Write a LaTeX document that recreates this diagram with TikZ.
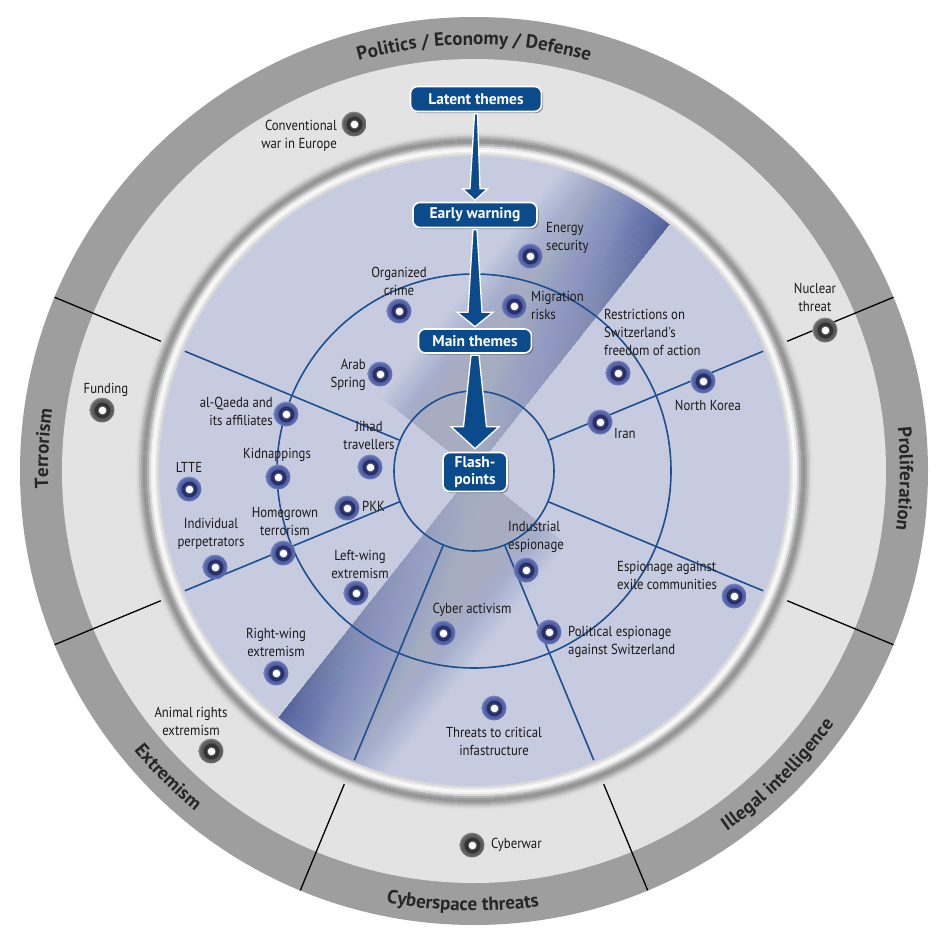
\documentclass[tikz,border=0pt]{standalone}
\usepackage{fontspec}
\setmainfont{PT Sans}
\newfontfamily\lblfont{PT Sans}[FakeStretch=0.88]
\newfontfamily\boxfont{PT Sans}
\usetikzlibrary{calc,decorations.text,shadows}
\definecolor{bandc}{HTML}{9E9E9E}
\definecolor{ringl}{HTML}{E3E3E3}
\definecolor{discc}{HTML}{C6CBE0}
\definecolor{dline}{HTML}{1E4F8E}
\definecolor{boxblue}{HTML}{0B4A8B}
\definecolor{stripec}{HTML}{3C4F9B}
\definecolor{bring}{HTML}{262F68}
\definecolor{bhaloA}{HTML}{5664A9}
\definecolor{bhaloB}{HTML}{8893C6}
\definecolor{bhaloC}{HTML}{C2C7DE}
\definecolor{gringc}{HTML}{333333}
\definecolor{ghaloA}{HTML}{5E5E5E}
\definecolor{ghaloB}{HTML}{949494}
\definecolor{ghaloC}{HTML}{DEDEDE}
\definecolor{txt}{HTML}{1A1A1A}
\definecolor{bandtxt}{HTML}{262626}
\pgfdeclareradialshading{bdotshade}{\pgfpoint{0bp}{0bp}}{color(0bp)=(white); color(7bp)=(white); color(8.6bp)=(bring); color(15.4bp)=(bring); color(17bp)=(bhaloA); color(21.5bp)=(bhaloA); color(26bp)=(bhaloB); color(30bp)=(bhaloC); color(100bp)=(bhaloC)}
\pgfdeclareradialshading{gdotshade}{\pgfpoint{0bp}{0bp}}{color(0bp)=(white); color(7bp)=(white); color(8.6bp)=(gringc); color(15.4bp)=(gringc); color(17bp)=(ghaloA); color(21.5bp)=(ghaloA); color(26bp)=(ghaloB); color(30bp)=(ghaloC); color(100bp)=(ghaloC)}
\newcommand\bandfont{\boxfont\bfseries\fontsize{19pt}{20pt}\selectfont}
\tikzset{
  discline/.style={draw=dline, line width=1.6pt},
  divline/.style={draw=black, line width=1.3pt},
  bdot/.style={circle, inner sep=0pt, minimum size=25pt, shading=bdotshade},
  gdot/.style={circle, inner sep=0pt, minimum size=25pt, shading=gdotshade},
  lbl/.style={font=\lblfont\fontsize{14.5pt}{18pt}\selectfont, text=txt, inner sep=0pt, align=center},
  lbll/.style={lbl, align=left, anchor=west},
  lblr/.style={lbl, align=right, anchor=east},
  tbox/.style={rounded corners=7pt, fill=boxblue, draw=white, line width=1.6pt, text=white,
    font=\boxfont\bfseries\fontsize{15.5pt}{16pt}\selectfont, inner xsep=4pt, inner ysep=2pt,
    align=center, drop shadow={shadow xshift=1.6pt, shadow yshift=-1.6pt, fill=black, opacity=0.35}},
  bigarrow/.style={fill=boxblue, draw=white, line width=1.3pt, line join=miter},
  bandtext/.style={decorate, decoration={text along path, text align=center, text color=bandtxt, text={|\bandfont|#1}}}
}
\begin{document}
\begin{tikzpicture}[x=1pt,y=-1pt]
\useasboundingbox (0,0) rectangle (946,937);
\fill[white] (0,0) rectangle (946,937);
\coordinate (c) at (474,471);
% rings
\fill[bandc] (c) circle (454pt);
\fill[ringl] (c) circle (412pt);
\fill[discc] (c) circle (316pt);
% stripe (radar sweep)
\begin{scope}
  \clip (c) circle (315pt);
  \foreach \rot in {-38.4,141.6}{
    \begin{scope}[shift={(c)},x=1pt,y=1pt,rotate=\rot]
      \foreach \i in {1,...,60}{
        \fill[stripec,fill opacity=0.022] (0,0) rectangle ({118*(\i/60)^1.6},-330);
      }
      \foreach \j in {1,...,50}{
        \fill[discc,fill opacity=0.032] (-0.5,0) rectangle (119,{-\j*6});
      }
    \end{scope}}
\end{scope}
% rim bevel
\foreach \r/\k in {338/12,336/17,334/26,332/35,330/42,328/40,326/30,324/16,322/5,320/2,318/8,316/15}{
  \draw[line width=2.3pt, black!\k] (c) circle (\r pt);
}
% disc lines
\draw[discline] (c) circle (80pt);
\draw[discline] (c) circle (197pt);
\foreach \a in {22.5,157.5,202.5,247.5,292.5,337.5}{
  \draw[discline] ($(c)+(\a:80pt)$) -- ($(c)+(\a:313pt)$);
  \draw[divline] ($(c)+(\a:339pt)$) -- ($(c)+(\a:454pt)$);
}
% band texts
\path[bandtext={Politics / Economy / Defense}] ($(c)+(150:426pt)$) arc[start angle=150, end angle=30, radius=426pt];
\path[bandtext={Terrorism}] ($(c)+(227:426pt)$) arc[start angle=227, end angle=127, radius=426pt];
\path[bandtext={Proliferation}] ($(c)+(49:426pt)$) arc[start angle=49, end angle=-51, radius=426pt];
\path[bandtext={Extremism}] ($(c)+(195:440pt)$) arc[start angle=195, end angle=255, radius=440pt];
\path[bandtext={Cyberspace threats}] ($(c)+(238.5:440pt)$) arc[start angle=238.5, end angle=298.5, radius=440pt];
\path[bandtext={Illegal intelligence}] ($(c)+(280:440pt)$) arc[start angle=280, end angle=350, radius=440pt];
% dots
\node[gdot] (conv) at (354,124) {};
\node[gdot] (nuclear) at (825,330) {};
\node[gdot] (funding) at (102,410) {};
\node[gdot] (animal) at (211,751) {};
\node[gdot] (cyberwar) at (472,845) {};
\node[bdot] (energy) at (530,256) {};
\node[bdot] (orgcrime) at (399,311) {};
\node[bdot] (migration) at (514,306) {};
\node[bdot] (arab) at (380,374) {};
\node[bdot] (alqaeda) at (286,414) {};
\node[bdot] (kidnap) at (278,477) {};
\node[bdot] (ltte) at (189,489) {};
\node[bdot] (homegrown) at (283,553) {};
\node[bdot] (indiv) at (215,567) {};
\node[bdot] (jihad) at (370,467) {};
\node[bdot] (pkk) at (347,508) {};
\node[bdot] (leftwing) at (356,593) {};
\node[bdot] (rightwing) at (276,673) {};
\node[bdot] (restrict) at (618,373) {};
\node[bdot] (nkorea) at (703,381) {};
\node[bdot] (iran) at (600,422) {};
\node[bdot] (industrial) at (526,570) {};
\node[bdot] (exile) at (734,596) {};
\node[bdot] (cyberact) at (443,633) {};
\node[bdot] (political) at (549,632) {};
\node[bdot] (threats) at (494,708) {};
% labels
\node[lblr] (convL) at (337,136) {Conventional\\war in Europe};
\node[lbl] (nuclearL) at (815,297) {Nuclear\\threat};
\node[lbl] (fundingL) at (106,390) {Funding};
\node[lbl] (animalL) at (191,721) {Animal rights\\extremism};
\node[lbll] (cyberwarL) at (491,845) {Cyberwar};
\node[lbll] (energyL) at (546,238) {Energy\\security};
\node[lbl] (orgcrimeL) at (399,281) {Organized\\crime};
\node[lbll] (migrationL) at (531,305) {Migration\\risks};
\node[lblr] (arabL) at (366,375) {Arab\\Spring};
\node[lblr] (alqaedaL) at (273,411) {al-Qaeda and\\its affiliates};
\node[lbl] (kidnapL) at (277,455) {Kidnappings};
\node[lbl] (ltteL) at (189,467) {LTTE};
\node[lbl] (homegrownL) at (285,522) {Homegrown\\terrorism};
\node[lbl] (indivL) at (211,534) {Individual\\perpetrators};
\node[lbl] (jihadL) at (369,435) {Jihad\\travellers};
\node[lbll] (pkkL) at (362,506) {PKK};
\node[lbl] (leftwingL) at (360,564) {Left-wing\\extremism};
\node[lbl] (rightwingL) at (276,642) {Right-wing\\extremism};
\node[lbll] (restrictL) at (604,332) {Restrictions on\\Switzerland's\\freedom of action};
\node[lbl] (nkoreaL) at (708,405) {North Korea};
\node[lbll] (iranL) at (614,433) {Iran};
\node[lbll] (industrialL) at (508,537) {Industrial\\espionage};
\node[lbll] (exileL) at (617,575) {Espionage against\\exile communities};
\node[lbl] (cyberactL) at (472,610) {Cyber activism};
\node[lbll] (politicalL) at (568,642) {Political espionage\\against Switzerland};
\node[lbl] (threatsL) at (494,741) {Threats to critical\\infastructure};
% theme boxes
\node[tbox, minimum width=131pt, minimum height=25pt] (latent) at (476,99) {Latent themes};
\node[tbox, minimum width=124pt, minimum height=25pt] (early) at (475,215) {Early warning};
\node[tbox, minimum width=113pt, minimum height=24pt] (main) at (475,341) {Main themes};
\node[tbox, minimum width=64pt, minimum height=39pt, inner ysep=1pt, font=\boxfont\bfseries\fontsize{15.5pt}{17pt}\selectfont] (flash) at (475,472) {Flash-\\points};
% arrows
\draw[bigarrow] ($(latent.south)+(-1.5,1.5)$) -- ($(early.north)+(-5,-13)$) -- ($(early.north)+(-12.5,-13)$)
  -- ($(early.north)+(0,-1.5)$) -- ($(early.north)+(12.5,-13)$) -- ($(early.north)+(5,-13)$)
  -- ($(latent.south)+(1.5,1.5)$) -- cycle;
\draw[bigarrow] ($(early.south)+(-2,1.5)$) -- ($(main.north)+(-7,-16)$) -- ($(main.north)+(-18,-16)$)
  -- ($(main.north)+(0,-1.5)$) -- ($(main.north)+(18,-16)$) -- ($(main.north)+(7,-16)$)
  -- ($(early.south)+(2,1.5)$) -- cycle;
\draw[bigarrow] ($(main.south)+(-4,1.5)$) -- ($(flash.north)+(-11.5,-25)$) -- ($(flash.north)+(-24,-25)$)
  -- ($(flash.north)+(0,-3)$) -- ($(flash.north)+(24,-25)$) -- ($(flash.north)+(11.5,-25)$)
  -- ($(main.south)+(4,1.5)$) -- cycle;
\end{tikzpicture}
\end{document}
